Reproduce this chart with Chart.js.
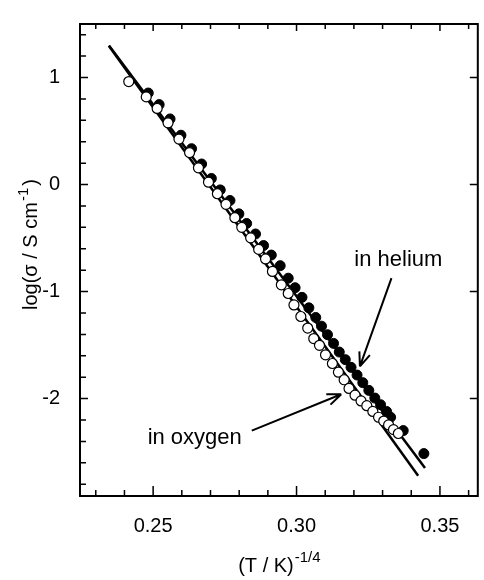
<!DOCTYPE html>
<html>
<head>
<meta charset="utf-8">
<script src="https://cdn.jsdelivr.net/npm/chart.js@4/dist/chart.umd.min.js"></script>
<style>
html, body { margin: 0; padding: 0; background: #fff; }
#wrap { width: 484px; height: 580px; }
</style>
</head>
<body>
<div id="wrap"><canvas id="chart"></canvas></div>
<script>
// Conductivity data

const oxygenX = [0.2415, 0.2476, 0.2514, 0.2552, 0.2590, 0.2627, 0.2658, 0.2693, 0.2724, 0.2754,
    0.2785, 0.2809, 0.2840, 0.2868, 0.2892, 0.2916, 0.2947, 0.2971, 0.2991, 0.3015,
    0.3039, 0.3060, 0.3080, 0.3101, 0.3125, 0.3146, 0.3166, 0.3183, 0.3204, 0.3225,
    0.3245, 0.3266, 0.3286, 0.3304, 0.3321, 0.3338, 0.3355];
const oxygenY = [0.962, 0.819, 0.711, 0.577, 0.425, 0.299, 0.156, 0.022, -0.086, -0.185,
    -0.310, -0.400, -0.498, -0.606, -0.695, -0.812, -0.937, -1.018, -1.125, -1.233,
    -1.341, -1.439, -1.502, -1.591, -1.672, -1.753, -1.824, -1.905, -1.968, -2.022,
    -2.066, -2.120, -2.174, -2.210, -2.246, -2.290, -2.326];

const heliumX = [0.2483, 0.2521, 0.2559, 0.2597, 0.2634, 0.2669, 0.2703, 0.2734, 0.2768, 0.2799,
    0.2826, 0.2857, 0.2885, 0.2912, 0.2943, 0.2971, 0.2995, 0.3019, 0.3043, 0.3067,
    0.3087, 0.3108, 0.3129, 0.3149, 0.3170, 0.3190, 0.3211, 0.3231, 0.3252, 0.3273,
    0.3293, 0.3314, 0.3328, 0.3372, 0.3444];
const heliumY = [0.855, 0.747, 0.613, 0.461, 0.335, 0.192, 0.057, -0.050, -0.149, -0.274,
    -0.364, -0.462, -0.570, -0.659, -0.758, -0.875, -0.964, -1.054, -1.152, -1.242,
    -1.323, -1.403, -1.484, -1.565, -1.636, -1.708, -1.780, -1.851, -1.923, -1.995,
    -2.057, -2.120, -2.174, -2.299, -2.514];

// straight fits
const fitOxygenX = [0.2346, 0.3424];
const fitOxygenY = [1.294, -2.720];
const fitHeliumX = [0.2346, 0.3448];
const fitHeliumY = [1.300, -2.649];

const xMajor = [0.25, 0.30, 0.35];
const xMinor = [0.23, 0.24, 0.26, 0.27, 0.28, 0.29, 0.31, 0.32, 0.33, 0.34, 0.36];
const yMajor = [-2, -1, 0, 1];
const yMinor = [-2.8, -2.6, -2.4, -2.2, -1.8, -1.6, -1.4, -1.2, -0.8, -0.6, -0.4, -0.2,
    0.2, 0.4, 0.6, 0.8, 1.2, 1.4];

const notes = [
    { text: 'in helium', x: 0.3355, y: -0.758 },
    { text: 'in oxygen', x: 0.2645, y: -2.425 }
];
const arrows = [
    { from: [0.3331, -0.875], to: [0.3221, -1.699] },
    { from: [0.2844, -2.299], to: [0.3156, -1.959] }
];

const FONT = '"Liberation Sans", Arial, sans-serif';

function toPoints(xs, ys) {
    return xs.map((x, i) => ({ x, y: ys[i] }));
}

const framePlugin = {
    id: 'frame',
    afterDraw(chart) {
        const { ctx, chartArea: a, scales } = chart;
        const x = scales.x, y = scales.y;
        ctx.save();
        ctx.strokeStyle = '#000';
        ctx.fillStyle = '#000';

        // box
        ctx.lineWidth = 2;
        ctx.strokeRect(a.left, a.top, a.right - a.left, a.bottom - a.top);

        // inward ticks
        ctx.lineWidth = 1.5;
        ctx.beginPath();
        const tick = (x1, y1, x2, y2) => { ctx.moveTo(x1, y1); ctx.lineTo(x2, y2); };
        xMajor.forEach(v => {
            const px = x.getPixelForValue(v);
            tick(px, a.bottom, px, a.bottom - 10);
            tick(px, a.top, px, a.top + 7);
        });
        xMinor.forEach(v => {
            const px = x.getPixelForValue(v);
            tick(px, a.bottom, px, a.bottom - 6);
            tick(px, a.top, px, a.top + 5);
        });
        yMajor.forEach(v => {
            const py = y.getPixelForValue(v);
            tick(a.left, py, a.left + 8, py);
            tick(a.right, py, a.right - 8, py);
        });
        yMinor.forEach(v => {
            const py = y.getPixelForValue(v);
            tick(a.left, py, a.left + 6, py);
        });
        ctx.stroke();

        // arrows
        ctx.lineWidth = 2;
        arrows.forEach(ar => {
            const x1 = x.getPixelForValue(ar.from[0]), y1 = y.getPixelForValue(ar.from[1]);
            const x2 = x.getPixelForValue(ar.to[0]), y2 = y.getPixelForValue(ar.to[1]);
            const ang = Math.atan2(y2 - y1, x2 - x1);
            ctx.beginPath();
            ctx.moveTo(x1, y1);
            ctx.lineTo(x2, y2);
            [-0.38, 0.38].forEach(d => {
                ctx.moveTo(x2, y2);
                ctx.lineTo(x2 - 15 * Math.cos(ang + d), y2 - 15 * Math.sin(ang + d));
            });
            ctx.stroke();
        });

        // notes
        ctx.font = '22px ' + FONT;
        ctx.textAlign = 'center';
        ctx.textBaseline = 'alphabetic';
        notes.forEach(n => {
            ctx.fillText(n.text, x.getPixelForValue(n.x), y.getPixelForValue(n.y));
        });

        // x title with superscript
        ctx.textAlign = 'left';
        ctx.font = '20px ' + FONT;
        const main = '(T / K)';
        const wMain = ctx.measureText(main).width;
        ctx.font = '15px ' + FONT;
        const sup = '-1/4';
        const wSup = ctx.measureText(sup).width;
        const cx = (a.left + a.right) / 2;
        let sx = cx - (wMain + wSup) / 2;
        ctx.font = '20px ' + FONT;
        ctx.fillText(main, sx, 572);
        ctx.font = '15px ' + FONT;
        ctx.fillText(sup, sx + wMain + 1, 562);

        // y title, rotated
        ctx.save();
        ctx.translate(37, 310);
        ctx.rotate(-Math.PI / 2);
        ctx.font = '20px ' + FONT;
        const yMain = 'log(σ / S cm';
        const wy = ctx.measureText(yMain).width;
        ctx.fillText(yMain, 0, 0);
        ctx.font = '15px ' + FONT;
        const ySup = '-1';
        const wys = ctx.measureText(ySup).width;
        ctx.fillText(ySup, wy + 1, -9);
        ctx.font = '20px ' + FONT;
        ctx.fillText(')', wy + wys + 3, 0);
        ctx.restore();

        ctx.restore();
    }
};

new Chart(document.getElementById('chart'), {
    type: 'scatter',
    data: {
        datasets: [
            {
                label: 'in oxygen',
                data: toPoints(oxygenX, oxygenY),
                pointRadius: 5,
                pointBackgroundColor: '#fff',
                pointBorderColor: '#000',
                pointBorderWidth: 1.2,
                order: 0
            },
            {
                label: 'in helium',
                data: toPoints(heliumX, heliumY),
                pointRadius: 5,
                pointBackgroundColor: '#000',
                pointBorderColor: '#000',
                pointBorderWidth: 1,
                order: 1
            },
            {
                label: 'fit oxygen',
                data: toPoints(fitOxygenX, fitOxygenY),
                showLine: true,
                borderColor: '#000',
                borderWidth: 2.5,
                pointRadius: 0,
                order: 2
            },
            {
                label: 'fit helium',
                data: toPoints(fitHeliumX, fitHeliumY),
                showLine: true,
                borderColor: '#000',
                borderWidth: 2.5,
                pointRadius: 0,
                order: 3
            }
        ]
    },
    options: {
        responsive: true,
        maintainAspectRatio: false,
        animation: false,
        devicePixelRatio: 1,
        layout: { padding: { top: 5, right: 0, left: 0, bottom: 0 } },
        plugins: {
            legend: { display: false },
            tooltip: { enabled: false }
        },
        scales: {
            x: {
                type: 'linear',
                min: 0.2245,
                max: 0.3632,
                grid: { display: false },
                border: { display: false },
                afterBuildTicks: s => { s.ticks = xMajor.map(v => ({ value: v })); },
                afterFit: s => { s.height = 84; },
                ticks: {
                    padding: 10,
                    color: '#000',
                    font: { family: FONT, size: 20 },
                    callback: v => v.toFixed(2)
                }
            },
            y: {
                type: 'linear',
                min: -2.91,
                max: 1.5,
                grid: { display: false },
                border: { display: false },
                afterBuildTicks: s => { s.ticks = yMajor.map(v => ({ value: v })); },
                afterFit: s => { s.width = 80; },
                ticks: {
                    padding: 12,
                    color: '#000',
                    font: { family: FONT, size: 20 },
                    callback: v => String(v)
                }
            }
        }
    },
    plugins: [framePlugin]
});
</script>
</body>
</html>
